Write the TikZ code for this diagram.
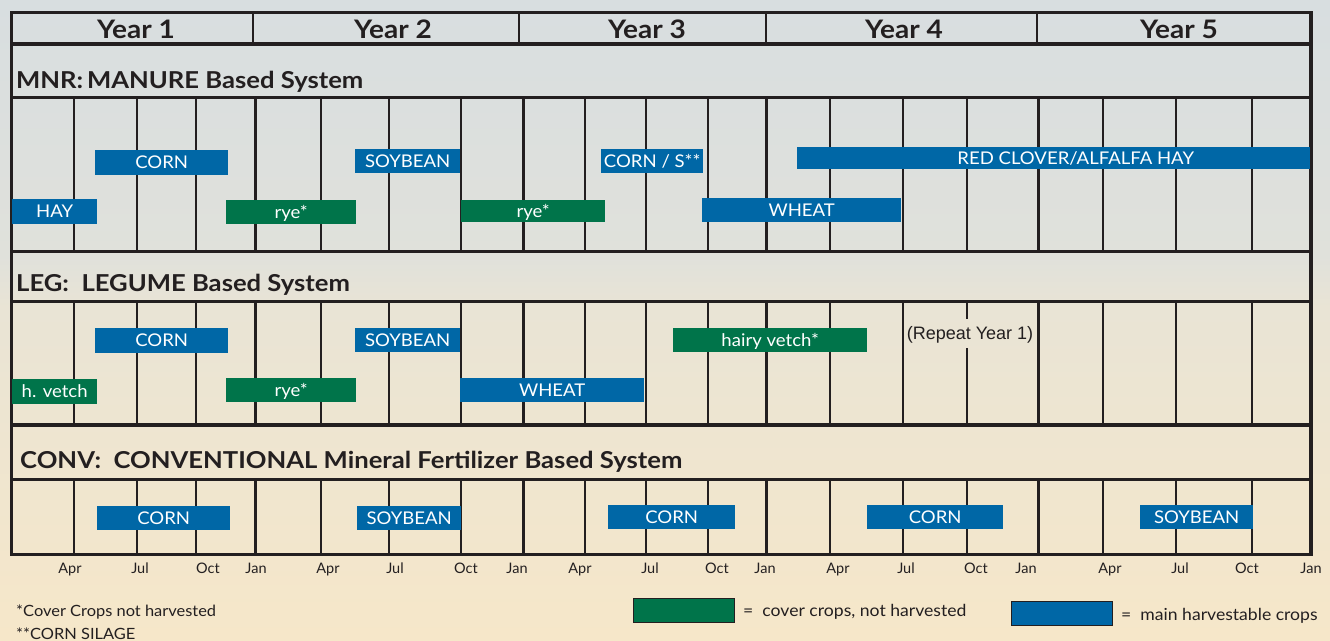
\documentclass[tikz,border=0pt]{standalone}
\usepackage{fontspec}
\setmainfont{Lato}
\newfontfamily\wideface[FakeStretch=1.1]{Lato}
\newfontfamily\barface[FakeStretch=1.06]{Lato}
\newfontfamily\helv{Liberation Sans}
\definecolor{ink}{RGB}{35,31,32}
\definecolor{cropblue}{RGB}{0,103,166}
\definecolor{cropgreen}{RGB}{0,116,74}
\definecolor{bgtop}{RGB}{216,222,224}
\definecolor{bgmidA}{RGB}{224,225,219}
\definecolor{bgmidB}{RGB}{233,228,213}
\definecolor{bgbot}{RGB}{246,231,201}
\pgfdeclareverticalshading{bgshade}{100bp}{color(0bp)=(bgbot); color(25bp)=(bgbot); color(51bp)=(bgmidB); color(55bp)=(bgmidA); color(75bp)=(bgtop); color(100bp)=(bgtop)}
\tikzset{
  frameline/.style={draw=ink, line width=3.5pt},
  sepline/.style={draw=ink, line width=3pt},
  monthline/.style={draw=ink, line width=1.8pt},
  yearline/.style={draw=ink, line width=3pt},
  cropbox/.style={fill=cropblue, text=white, inner sep=0pt, anchor=north west,
    text height=12.4pt, text depth=0pt, font=\barface\fontsize{17.5}{17.5}\selectfont},
  coverbox/.style={cropbox, fill=cropgreen},
  yearhead/.style={text=ink, anchor=base, font=\wideface\fontsize{25.5}{25.5}\selectfont\bfseries},
  rowhead/.style={text=ink, anchor=base west, inner sep=0pt, font=\wideface\fontsize{23.3}{23.3}\selectfont\bfseries},
  monthlbl/.style={text=ink, anchor=base, inner sep=0pt, font=\fontsize{14.5}{14.5}\selectfont},
  notetext/.style={text=ink, anchor=base west, inner sep=0pt, font=\barface\fontsize{15.5}{15.5}\selectfont},
  legendtext/.style={text=ink, anchor=base west, inner sep=0pt, font=\barface\fontsize{16.6}{16.6}\selectfont},
  legendbox/.style={draw=ink, line width=0.8pt, minimum width=101pt, minimum height=24pt, inner sep=0pt},
  repeatlbl/.style={text=ink, inner sep=1pt, font=\helv\fontsize{18}{18}\selectfont},
}
% [style]{x1}{y1}{x2}{y2}{name}{text}
\newcommand\cropbar[7][cropbox]{\node[#1, minimum width=#4-#2, minimum height=#5-#3] (#6) at (#2,#3) {#7};}
\begin{document}
\begin{tikzpicture}[x=1pt,y=-1pt]
\shade[shading=bgshade] (0,0) rectangle (1330,640);
\useasboundingbox (0,0) rectangle (1330,640);

% ---- vertical month / year lines in the three grid bands
\foreach \ya/\yb in {97.5/251.5, 479/554.5}{
  \foreach \x in {74,137,196,321,389,461,585,646,708,830,903,967,1103,1176,1252}
    \draw[monthline] (\x,\ya) -- (\x,\yb);
  \foreach \x in {255,523,766,1038}
    \draw[yearline] (\x,\ya) -- (\x,\yb);
}
\foreach \x in {74,137,196,321,389,461,585,646,708,830,903,1103,1176,1252}
  \draw[monthline] (\x,301) -- (\x,425);
\draw[monthline] (967,301) -- (967,319);
\draw[monthline] (967,348) -- (967,425);
\foreach \x in {255,523,766,1038}
  \draw[yearline] (\x,301) -- (\x,425);

% ---- header separators
\foreach \x in {253,519,766,1037}
  \draw[draw=ink, line width=2pt] (\x,12.5) -- (\x,44);

% ---- horizontal separators
\draw[sepline, line width=3.5pt] (11.5,44) -- (1311,44);
\draw[sepline] (11.5,97.5) -- (1311,97.5);
\draw[sepline, line width=3.5pt] (11.5,251.5) -- (1311,251.5);
\draw[sepline] (11.5,301) -- (1311,301);
\draw[sepline, line width=3.5pt] (11.5,425) -- (1311,425);
\draw[sepline] (11.5,479) -- (1311,479);

% ---- outer frame
\draw[frameline] (11.5,12.5) rectangle (1311,554.5);

% ---- header
\node[yearhead] (y1) at (136,38) {Year 1};
\node[yearhead] (y2) at (393,38) {Year 2};
\node[yearhead] (y3) at (647,38) {Year 3};
\node[yearhead] (y4) at (904,38) {Year 4};
\node[yearhead] (y5) at (1179,38) {Year 5};

% ---- row titles
\node[rowhead] (mnr) at (16,88) {MNR:\,MANURE Based System};
\node[rowhead] (leg) at (16,291) {LEG:\ \ LEGUME Based System};
\node[rowhead] (conv) at (20,468) {CONV:\ \ CONVENTIONAL Mineral Fertilizer Based System};

% ---- MNR bars
\cropbar{12}{199}{97}{224}{mhay}{HAY}
\cropbar{95}{150}{228}{175}{mcorn}{CORN}
\cropbar[coverbox]{226}{200}{356}{224}{mrye1}{rye*}
\cropbar{355}{149}{460}{173}{msoy}{SOYBEAN}
\cropbar[coverbox]{461}{200}{605}{222}{mrye2}{rye*}
\cropbar{601}{149}{703}{173}{mcs}{CORN / S**}
\cropbar{702}{198}{901}{222}{mwheat}{WHEAT}
\cropbar{797}{147}{1310}{169}{mclover}{\hspace*{44pt}RED CLOVER/ALFALFA HAY}

% ---- LEG bars
\cropbar[coverbox]{12}{379}{97}{404}{lvetch}{h. vetch}
\cropbar{95}{328}{228}{353}{lcorn}{CORN}
\cropbar[coverbox]{226}{378}{356}{402}{lrye}{rye*}
\cropbar{355}{328}{460}{352}{lsoy}{SOYBEAN}
\cropbar{460}{378}{644}{402}{lwheat}{WHEAT}
\cropbar[coverbox]{673}{328}{867}{352}{lhvetch}{hairy vetch*}
\node[repeatlbl] (rep) at (970,335) {(Repeat Year 1)};

% ---- CONV bars
\cropbar{97}{506}{230}{530}{ccorn1}{CORN}
\cropbar{357}{506}{461}{530}{csoy1}{SOYBEAN}
\cropbar{608}{505}{735}{529}{ccorn2}{CORN}
\cropbar{867}{505}{1003}{529}{ccorn3}{CORN}
\cropbar{1140}{505}{1253}{529}{csoy2}{SOYBEAN}

% ---- month labels
\foreach \x/\m [count=\i] in {70/Apr,140/Jul,208/Oct,256/Jan,328/Apr,395/Jul,466/Oct,517/Jan,
  580/Apr,650/Jul,717/Oct,765/Jan,838/Apr,906/Jul,976/Oct,1026/Jan,1110/Apr,1180/Jul,1247/Oct,1311/Jan}
  \node[monthlbl] (mon\i) at (\x,573) {\m};

% ---- footnotes
\node[notetext] (fn1) at (16,616) {*Cover Crops not harvested};
\node[notetext] (fn2) at (16,639) {**CORN SILAGE};

% ---- legend
\node[legendbox, fill=cropgreen] (lgG) at (683.5,610) {};
\node[legendtext] (lgGt) at (743,616) {=\ \ cover crops, not harvested};
\node[legendbox, fill=cropblue] (lgB) at (1062,613) {};
\node[legendtext] (lgBt) at (1121,620) {=\ \ main harvestable crops};
\end{tikzpicture}
\end{document}
